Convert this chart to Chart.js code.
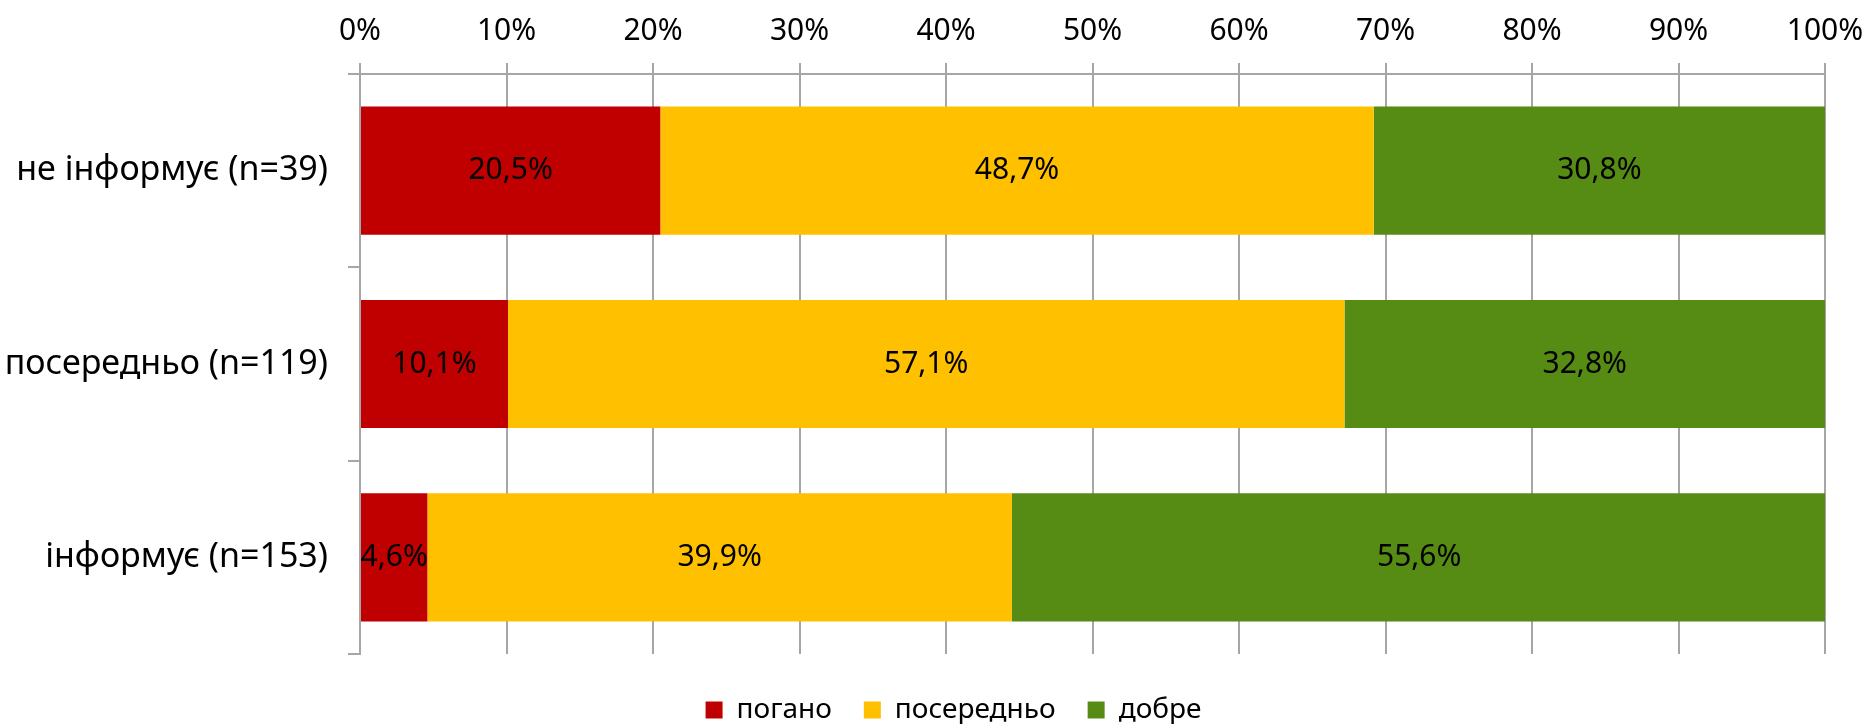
<!DOCTYPE html>
<html>
<head>
<meta charset="utf-8">
<script src="https://cdn.jsdelivr.net/npm/chart.js@4/dist/chart.umd.min.js"></script>
<style>
html,body{margin:0;padding:0;background:#fff;}
#wrap{width:1868px;height:724px;position:relative;}
</style>
</head>
<body>
<div id="wrap"><canvas id="c" width="1868" height="724"></canvas></div>
<script>
const categories = ["не інформує (n=39)", "посередньо (n=119)", "інформує (n=153)"];
const seriesNames = ["погано", "посередньо", "добре"];
const badValues = [20.5, 10.1, 4.6];
const midValues = [48.7, 57.1, 39.9];
const goodValues = [30.8, 32.8, 55.6];
const tickValues = [0, 10, 20, 30, 40, 50, 60, 70, 80, 90, 100];
const colors = ["#C00000", "#FFC000", "#568B14"];

const FONT = "'Noto Sans', sans-serif";
const GRID = "#A6A6A6";

const labelPlugin = {
  id: 'barLabels',
  afterDatasetsDraw(chart) {
    const ctx = chart.ctx;
    ctx.save();
    ctx.font = "30px " + FONT;
    ctx.fillStyle = "#000";
    ctx.textAlign = "center";
    ctx.textBaseline = "middle";
    chart.data.datasets.forEach((ds, di) => {
      const meta = chart.getDatasetMeta(di);
      meta.data.forEach((el, i) => {
        const v = ds.data[i];
        const p = el.getProps(['x', 'y', 'base'], true);
        const cx = (p.x + p.base) / 2;
        ctx.fillText(v.toFixed(1).replace('.', ',') + '%', cx, p.y);
      });
    });
    ctx.restore();
  }
};

// fix legend box height and placement
const legendTweak = {
  id: 'legendTweak',
  beforeUpdate(chart) {
    const lg = chart.legend;
    if (lg && !lg._tweaked) {
      const origFit = lg.fit.bind(lg);
      lg.fit = function () { origFit(); this.height = 70; };
      lg._tweaked = true;
    }
  },
  afterLayout(chart) {
    const lg = chart.legend;
    if (lg) { lg.left += 41; lg.right += 41; lg.top += 10; lg.bottom += 10; }
  }
};

new Chart(document.getElementById('c'), {
  type: 'bar',
  data: {
    labels: categories,
    datasets: [
      { label: seriesNames[0], data: badValues, backgroundColor: colors[0] },
      { label: seriesNames[1], data: midValues, backgroundColor: colors[1] },
      { label: seriesNames[2], data: goodValues, backgroundColor: colors[2] }
    ]
  },
  options: {
    indexAxis: 'y',
    responsive: false,
    animation: false,
    devicePixelRatio: 1,
    layout: { padding: { left: 0, right: 43, top: 0, bottom: 0 } },
    datasets: { bar: { categoryPercentage: 1, barPercentage: 0.663 } },
    scales: {
      x: {
        position: 'top',
        stacked: true,
        min: 0, max: 100,
        afterBuildTicks: s => { s.ticks = tickValues.map(v => ({ value: v })); },
        afterFit: s => { s.height = 74; s.paddingLeft = 0; s.paddingRight = 0; },
        ticks: {
          callback: v => v + '%',
          color: '#000',
          font: { family: FONT, size: 30 },
          padding: 14,
          maxRotation: 0
        },
        grid: { color: GRID, lineWidth: 2, tickLength: 11, drawTicks: true },
        border: { display: true, color: GRID, width: 2 }
      },
      y: {
        stacked: true,
        afterFit: s => { s.width = 360; },
        ticks: {
          color: '#000',
          font: { family: FONT, size: 34 },
          padding: 20
        },
        grid: { offset: true, drawOnChartArea: false, color: GRID, lineWidth: 2, tickLength: 12 },
        border: { display: true, color: GRID, width: 2 }
      }
    },
    plugins: {
      legend: {
        position: 'bottom',
        labels: {
          color: '#000',
          font: { family: FONT, size: 28 },
          boxWidth: 17, boxHeight: 17,
          padding: 32
        }
      },
      tooltip: { enabled: false }
    }
  },
  plugins: [labelPlugin, legendTweak]
});
</script>
</body>
</html>
